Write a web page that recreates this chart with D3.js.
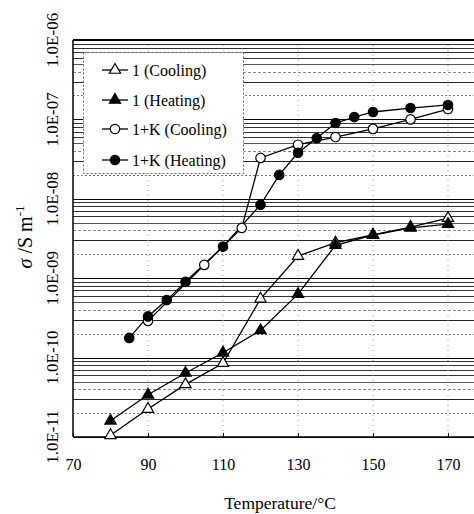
<!DOCTYPE html>
<html>
<head>
<meta charset="utf-8">
<script src="https://cdn.jsdelivr.net/npm/d3@7"></script>
<style>
  body { margin: 0; background: #fff; }
  svg text { font-family: "Liberation Serif", "Times New Roman", Times, "DejaVu Serif", serif; }
</style>
</head>
<body>
<div id="container"><svg></svg></div>
<script>
// temperatures (°C) and conductivities (S/m)
const temps1 = [80, 90, 100, 110, 120, 130, 140, 150, 160, 170];
const cool1 = [1.05e-11, 2.25e-11, 4.6e-11, 8.5e-11, 5.5e-10, 1.9e-9, 2.8e-9, 3.5e-9, 4.4e-9, 5.7e-9];
const heat1 = [1.6e-11, 3.4e-11, 6.4e-11, 1.15e-10, 2.2e-10, 6.3e-10, 2.6e-9, 3.5e-9, 4.3e-9, 4.8e-9];

const tempsKC = [90, 105, 115, 120, 130, 140, 150, 160, 170];
const coolK = [2.9e-10, 1.47e-9, 4.3e-9, 3.27e-8, 4.8e-8, 6.0e-8, 7.6e-8, 1.0e-7, 1.35e-7];
const tempsKH = [85, 90, 95, 100, 110, 120, 125, 130, 135, 140, 145, 150, 160, 170];
const heatK = [1.77e-10, 3.3e-10, 5.3e-10, 9.0e-10, 2.5e-9, 8.4e-9, 2.0e-8, 3.8e-8, 5.8e-8, 9.0e-8, 1.07e-7, 1.24e-7, 1.39e-7, 1.52e-7];

const xTicks = [70, 90, 110, 130, 150, 170];
const yDecades = [1e-11, 1e-10, 1e-9, 1e-8, 1e-7, 1e-6];
const legendLabels = ["1 (Cooling)", "1 (Heating)", "1+K (Cooling)", "1+K (Heating)"];

let width = 474;
let height = 514;
let margin = {left: 73, top: 40, bottom: 437};
let serif = '"Liberation Serif", "Times New Roman", Times, "DejaVu Serif", serif';

let svg = d3.select('#container').select('svg')
    .attr('width', width)
    .attr('height', height);

let x = d3.scaleLinear().domain([70, 70 + (width - margin.left) / 3.75]).range([margin.left, width]);
let y = d3.scaleLog().domain([1e-11, 1e-6]).range([margin.bottom, margin.top]);

// horizontal grid at every log step, styled like the scanned original
let grid = [];
for (let e = -11; e <= -7; e++) {
    for (let m = 1; m <= 9; m++) grid.push({v: m * Math.pow(10, e), m: m});
}
grid.push({v: 1e-6, m: 1});

function gridStyle(m) {
    if (m == 1) return {c: "#000", w: 1.2, d: null};
    if (m == 2) return {c: "#777", w: 1, d: "2,2"};
    if (m == 3) return {c: "#222", w: 1, d: null};
    if (m == 4) return {c: "#888", w: 1, d: "3,2"};
    if (m == 5) return {c: "#555", w: 1, d: null};
    return {c: "#333", w: 1, d: null};
}

svg.append("g")
    .selectAll("line")
    .data(grid)
    .join("line")
    .attr("x1", margin.left)
    .attr("x2", width)
    .attr("y1", d => Math.round(y(d.v)) + 0.5)
    .attr("y2", d => Math.round(y(d.v)) + 0.5)
    .attr("stroke", d => gridStyle(d.m).c)
    .attr("stroke-width", d => gridStyle(d.m).w)
    .attr("stroke-dasharray", d => gridStyle(d.m).d);

// faint dotted verticals
svg.append("g")
    .selectAll("line")
    .data(xTicks.slice(1))
    .join("line")
    .attr("x1", d => x(d))
    .attr("x2", d => x(d))
    .attr("y1", margin.top)
    .attr("y2", margin.bottom)
    .attr("stroke", "#999")
    .attr("stroke-dasharray", "1,4");

// frame: left, bottom, heavy top
svg.append("line").attr("x1", margin.left).attr("x2", margin.left)
    .attr("y1", margin.top).attr("y2", margin.bottom).attr("stroke", "#000").attr("stroke-width", 1.5);
svg.append("line").attr("x1", margin.left).attr("x2", width)
    .attr("y1", margin.bottom).attr("y2", margin.bottom).attr("stroke", "#000").attr("stroke-width", 1.5);
svg.append("line").attr("x1", margin.left).attr("x2", width)
    .attr("y1", margin.top).attr("y2", margin.top).attr("stroke", "#000").attr("stroke-width", 2);

// x axis
let xAxis = svg.append("g")
    .attr("transform", `translate(0,${margin.bottom})`)
    .call(d3.axisBottom(x).tickValues(xTicks).tickSizeInner(-4).tickSizeOuter(0).tickPadding(22));
xAxis.attr("font-family", serif);
xAxis.select(".domain").remove();
xAxis.selectAll("text").attr("font-size", 16).attr("fill", "#000");

// y axis labels (rotated)
let fmt = v => "1.0E-" + String(-Math.round(Math.log10(v))).padStart(2, "0");
svg.append("g")
    .selectAll("text")
    .data(yDecades)
    .join("text")
    .attr("transform", d => `translate(58,${y(d)}) rotate(-90)`)
    .attr("text-anchor", "middle")
    .attr("font-size", 17)
    .text(fmt);

// axis titles
svg.append("text")
    .attr("x", 280)
    .attr("y", 509)
    .attr("text-anchor", "middle")
    .attr("font-size", 17.5)
    .text("Temperature/°C");

let yt = svg.append("text")
    .attr("transform", "translate(32,237) rotate(-90)")
    .attr("text-anchor", "middle")
    .attr("font-size", 20);
yt.append("tspan").attr("font-style", "italic").text("σ");
yt.append("tspan").text(" /S m");
yt.append("tspan").attr("dy", -8).attr("font-size", 13).text("-1");

// series
let series = [
    {t: temps1, v: cool1, shape: d3.symbolTriangle, fill: "#fff"},
    {t: temps1, v: heat1, shape: d3.symbolTriangle, fill: "#000"},
    {t: tempsKC, v: coolK, shape: d3.symbolCircle, fill: "#fff"},
    {t: tempsKH, v: heatK, shape: d3.symbolCircle, fill: "#000"}
];

let line = d3.line().x(d => x(d[0])).y(d => y(d[1]));

svg.append("g")
    .selectAll("path")
    .data(series)
    .join("path")
    .attr("d", s => line(s.t.map((t, i) => [t, s.v[i]])))
    .attr("fill", "none")
    .attr("stroke", "#000")
    .attr("stroke-width", 1.3);

series.forEach(s => {
    svg.append("g")
        .selectAll("path")
        .data(s.t.map((t, i) => [t, s.v[i]]))
        .join("path")
        .attr("transform", d => `translate(${x(d[0])},${y(d[1])})`)
        .attr("d", d3.symbol().type(s.shape).size(s.shape == d3.symbolCircle ? 70 : 55))
        .attr("fill", s.fill)
        .attr("stroke", "#000")
        .attr("stroke-width", 1.2);
});

// legend
let lg = svg.append("g");
lg.append("rect")
    .attr("x", 83.5).attr("y", 52.5).attr("width", 160).attr("height", 121)
    .attr("fill", "#fff")
    .attr("stroke", "#666")
    .attr("stroke-dasharray", "2,2");

let rows = lg.selectAll("g.row")
    .data(series)
    .join("g")
    .attr("class", "row")
    .attr("transform", (d, i) => `translate(0,${[70, 100, 129, 160][i]})`);
rows.append("line").attr("x1", 102).attr("x2", 128).attr("stroke", "#000").attr("stroke-width", 1.3);
rows.append("path")
    .attr("transform", "translate(115,0)")
    .attr("d", s => d3.symbol().type(s.shape).size(s.shape == d3.symbolCircle ? 70 : 55)())
    .attr("fill", s => s.fill)
    .attr("stroke", "#000")
    .attr("stroke-width", 1.2);
rows.append("text")
    .attr("x", 132)
    .attr("y", 5.5)
    .attr("font-size", 16)
    .text((d, i) => legendLabels[i]);
</script>
</body>
</html>
